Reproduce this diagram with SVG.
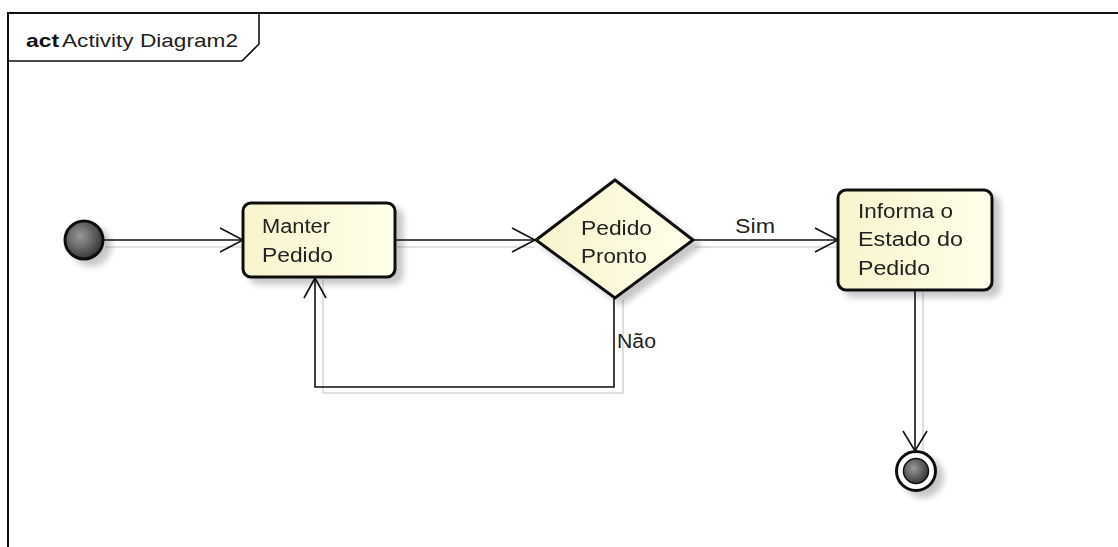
<svg xmlns="http://www.w3.org/2000/svg" width="1118" height="547" viewBox="0 0 1118 547">
<style>
.lbl{font-family:"Liberation Sans",Arial,sans-serif;font-size:19.5px;fill:#222}
.node{stroke:#111;stroke-width:3;fill:url(#yg)}
.edge{fill:none;stroke:#111;stroke-width:1.6}
.sh{fill:none;stroke:#d8d8d8;stroke-width:1.6}
</style>
<defs>
<linearGradient id="yg" x1="0" y1="0" x2="1" y2="0">
<stop offset="0" stop-color="#f7f3cc"/>
<stop offset="1" stop-color="#ffffea"/>
</linearGradient>
<radialGradient id="dg" cx="0.4" cy="0.4" r="0.6">
<stop offset="0" stop-color="#999"/>
<stop offset="1" stop-color="#3a3a3a"/>
</radialGradient>
<filter id="ds" x="-30%" y="-30%" width="170%" height="170%">
<feGaussianBlur in="SourceAlpha" stdDeviation="3"/>
<feOffset dx="7" dy="6" result="b"/>
<feComponentTransfer><feFuncA type="linear" slope="0.22"/></feComponentTransfer>
<feMerge><feMergeNode/><feMergeNode in="SourceGraphic"/></feMerge>
</filter>
</defs>
<rect width="1118" height="547" fill="#fff"/>
<g id="frame">
<path d="M8 547 V13 H1118" fill="none" stroke="#111" stroke-width="2"/>
<path d="M8 61 H242 L259 44 V13" fill="none" stroke="#111" stroke-width="1.6"/>
<text x="26" y="47" font-family="Liberation Sans,Arial,sans-serif" font-size="19" font-weight="bold" fill="#111" textLength="33" lengthAdjust="spacingAndGlyphs">act</text>
<text x="62" y="47" font-family="Liberation Sans,Arial,sans-serif" font-size="19" fill="#222" textLength="176" lengthAdjust="spacingAndGlyphs">Activity Diagram2</text>
</g>
<g id="connectors">
<g class="shadows">
<line class="sh" x1="105" y1="247" x2="243" y2="247"/>
<line class="sh" x1="397" y1="247" x2="535" y2="247"/>
<line class="sh" x1="695" y1="247" x2="838" y2="247"/>
<polyline class="sh" points="623,300 623,393 323,393 323,279"/>
<line class="sh" x1="923" y1="292" x2="923" y2="450"/>
</g>
<g id="e1"><line class="edge" x1="103" y1="240" x2="243" y2="240"/><polyline class="edge" points="220,228 243,240 220,252"/></g>
<g id="e2"><line class="edge" x1="395" y1="240" x2="535" y2="240"/><polyline class="edge" points="512,228 535,240 512,252"/></g>
<g id="e3"><line class="edge" x1="693" y1="240" x2="838" y2="240"/><polyline class="edge" points="815,228 838,240 815,252"/><text class="lbl" x="735" y="233" textLength="40" lengthAdjust="spacingAndGlyphs">Sim</text></g>
<g id="e4"><polyline class="edge" points="614,298 614,387 315,387 315,278"/><polyline class="edge" points="304,298 315,278 326,298"/><text class="lbl" x="617" y="348" textLength="39" lengthAdjust="spacingAndGlyphs">Não</text></g>
<g id="e5"><line class="edge" x1="915" y1="290" x2="915" y2="451"/><polyline class="edge" points="903,431 915,451 927,431"/></g>
</g>
<g id="start" filter="url(#ds)"><circle cx="84" cy="240" r="19" fill="url(#dg)" stroke="#111" stroke-width="3"/></g>
<g id="manter" filter="url(#ds)">
<rect class="node" x="243" y="203" width="152" height="74" rx="8"/>
<text class="lbl" x="262" y="233" textLength="68" lengthAdjust="spacingAndGlyphs">Manter</text>
<text class="lbl" x="262" y="262" textLength="71" lengthAdjust="spacingAndGlyphs">Pedido</text>
</g>
<g id="decision" filter="url(#ds)">
<polygon class="node" points="615,180 693,240 615,298 536,240"/>
<text class="lbl" x="581" y="235" textLength="71" lengthAdjust="spacingAndGlyphs">Pedido</text>
<text class="lbl" x="581" y="263" textLength="66" lengthAdjust="spacingAndGlyphs">Pronto</text>
</g>
<g id="informa" filter="url(#ds)">
<rect class="node" x="838" y="190" width="154" height="100" rx="8"/>
<text class="lbl" x="858" y="218" textLength="95" lengthAdjust="spacingAndGlyphs">Informa o</text>
<text class="lbl" x="858" y="246" textLength="105" lengthAdjust="spacingAndGlyphs">Estado do</text>
<text class="lbl" x="858" y="275" textLength="72" lengthAdjust="spacingAndGlyphs">Pedido</text>
</g>
<g id="final" filter="url(#ds)">
<circle cx="916" cy="471" r="19.5" fill="#fff" stroke="#111" stroke-width="3"/>
<circle cx="916" cy="471" r="12.5" fill="url(#dg)" stroke="#111" stroke-width="1.5"/>
</g>
</svg>
